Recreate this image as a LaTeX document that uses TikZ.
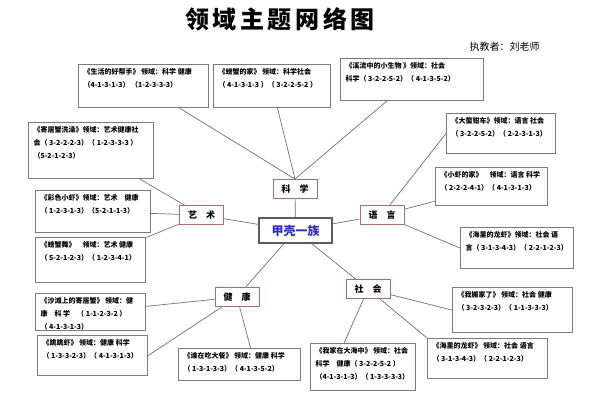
\documentclass[tikz,border=0pt]{standalone}
\usepackage{fontspec}
\setmainfont{Noto Sans CJK SC}
\definecolor{catred}{HTML}{B06A6A}
\definecolor{hubgray}{HTML}{5A5A6E}
\definecolor{hubblue}{HTML}{2B2BC0}
\definecolor{linkgray}{HTML}{707070}
\definecolor{leafgray}{HTML}{7A7A7A}
\newcommand{\leafbox}[3]{\parbox[c][#2pt][t]{#1pt}{\raggedright #3}}
\begin{document}
\begin{tikzpicture}[x=1pt, y=-1pt,
        leaf/.style={draw=leafgray, line width=1.1pt, anchor=north west,
            inner xsep=5pt, inner ysep=4pt, font=\bfseries\fontsize{7}{13}\selectfont},
        area/.style={draw=catred, line width=1pt, minimum width=44pt,
            minimum height=19pt, inner sep=0pt, font=\bfseries\fontsize{9}{9}\selectfont},
        hub/.style={draw=hubgray, line width=1.3pt, minimum width=73pt,
            minimum height=25pt, inner sep=0pt, text=hubblue, font=\bfseries\fontsize{12}{12}\selectfont},
        link/.style={draw=linkgray, line width=0.7pt}
    ]
    \useasboundingbox (0,0) rectangle (590,400);
    \node[font=\bfseries\fontsize{24}{24}\selectfont\addfontfeature{LetterSpace=15}] (title) at (280,19) {领域主题网络图};
    \node[anchor=west, font=\fontsize{10}{10}\selectfont] (teacher) at (466,47) {执教者：刘老师};

    \node[hub] (shell) at (295.5,230.5) {甲壳一族};
    \node[area] (sci) at (295,189) {科　学};
    \node[area] (art) at (201.5,215) {艺　术};
    \node[area] (lang) at (382,215) {语　言};
    \node[area] (health) at (237,297) {健　康};
    \node[area] (soc) at (368,289) {社　会};

    \node[leaf] (helper) at (78,64) {\leafbox{120}{35}{《生活的好帮手》 领域：科学 健康\\（4-1-3-1-3） （1-2-3-3-3）}};
    \node[leaf] (crabhome) at (213,64) {\leafbox{107}{35}{《螃蟹的家》 领域：科学社会\\（ 4-1-3-1-3 ）（ 3-2-2-5-2 ）}};
    \node[leaf] (stream) at (340,58) {\leafbox{133}{34}{《溪流中的小生物 》领域：社会\\科学（ 3-2-2-5-2）（ 4-1-3-5-2）}};
    \node[leaf] (hermit) at (28,122) {\leafbox{115}{48}{《寄居蟹洗澡》领域：艺术健康社\\会（ 3-2-2-2-3）（ 1-2-3-3-3 ）\\（5-2-1-2-3）}};
    \node[leaf] (claw) at (446,113) {\leafbox{99}{32}{《大螯钳车》领域：语言 社会\\（ 3-2-2-5-2）（ 2-2-3-1-3）}};
    \node[leaf] (colour) at (35,190) {\leafbox{105}{34}{《彩色小虾》领域：艺术　健康\\（ 1-2-3-1-3）（5-2-1-1-3）}};
    \node[leaf] (dance) at (35,237) {\leafbox{100}{37}{《螃蟹舞》　领域：艺术 健康\\（ 5-2-1-2-3）（ 1-2-3-4-1）}};
    \node[leaf] (shrimphome) at (435,167) {\leafbox{102}{30}{《小虾的家》　领域：语言 科学\\（ 2-2-2-4-1）（ 4-1-3-1-3）}};
    \node[leaf] (lobsterA) at (460,227) {\leafbox{103}{33}{《海里的龙虾》领域：社会 语\\言（ 3-1-3-4-3）（ 2-2-1-2-3）}};
    \node[leaf] (beach) at (35,293) {\leafbox{100}{29}{《沙滩上的寄居蟹》 领域：健\\康　科 学　（ 1-1-2-3-2 ）\\（ 4-1-3-1-3）}};
    \node[leaf] (jump) at (37,335) {\leafbox{100}{32}{《跳跳虾》 领域：健康 科学\\（ 1-3-3-2-3）（ 4-1-3-1-3）}};
    \node[leaf] (feast) at (178,348) {\leafbox{112}{24}{《谁在吃大餐》 领域：健康 科学\\（ 1-3-1-3-3）（ 4-1-3-5-2）}};
    \node[leaf] (sea) at (310,343) {\leafbox{95}{39}{《我家在大海中》 领域：社会\\科学　健康（ 3-2-2-5-2 ）\\（4-1-3-1-3）（ 1-3-3-3-3）}};
    \node[leaf] (move) at (452,287) {\leafbox{110}{37}{《我搬家了》 领域：社会 健康\\（ 3-2-3-2-3）（ 1-1-3-3-3）}};
    \node[leaf] (lobsterB) at (427,338) {\leafbox{110}{32}{《海里的龙虾》 领域：社会 语言\\（ 3-1-3-4-3）（ 2-2-1-2-3）}};

    \draw[link] (shell) -- (sci);
    \draw[link] (shell) -- (art);
    \draw[link] (shell) -- (lang);
    \draw[link] (shell) -- (health);
    \draw[link] (shell) -- (soc);

    \draw[link] (sci.north) -- (helper);
    \draw[link] (sci.north) -- (crabhome);
    \draw[link] (sci.north) -- (stream);

    \draw[link] (art) -- (hermit);
    \draw[link] (art) -- (colour);
    \draw[link] (art) -- (dance);

    \draw[link] (lang) -- (claw.west);
    \draw[link] (lang) -- (shrimphome);
    \draw[link] (lang) -- (lobsterA.west);

    \draw[link] (health) -- (beach);
    \draw[link] (health) -- (jump.east);
    \draw[link] (health) -- ([xshift=11pt]feast.north);

    \draw[link] (soc) -- ([xshift=-19pt]sea.north);
    \draw[link] (soc) -- (move.west);
    \draw[link] (soc) -- (lobsterB.north west);
\end{tikzpicture}
\end{document}
